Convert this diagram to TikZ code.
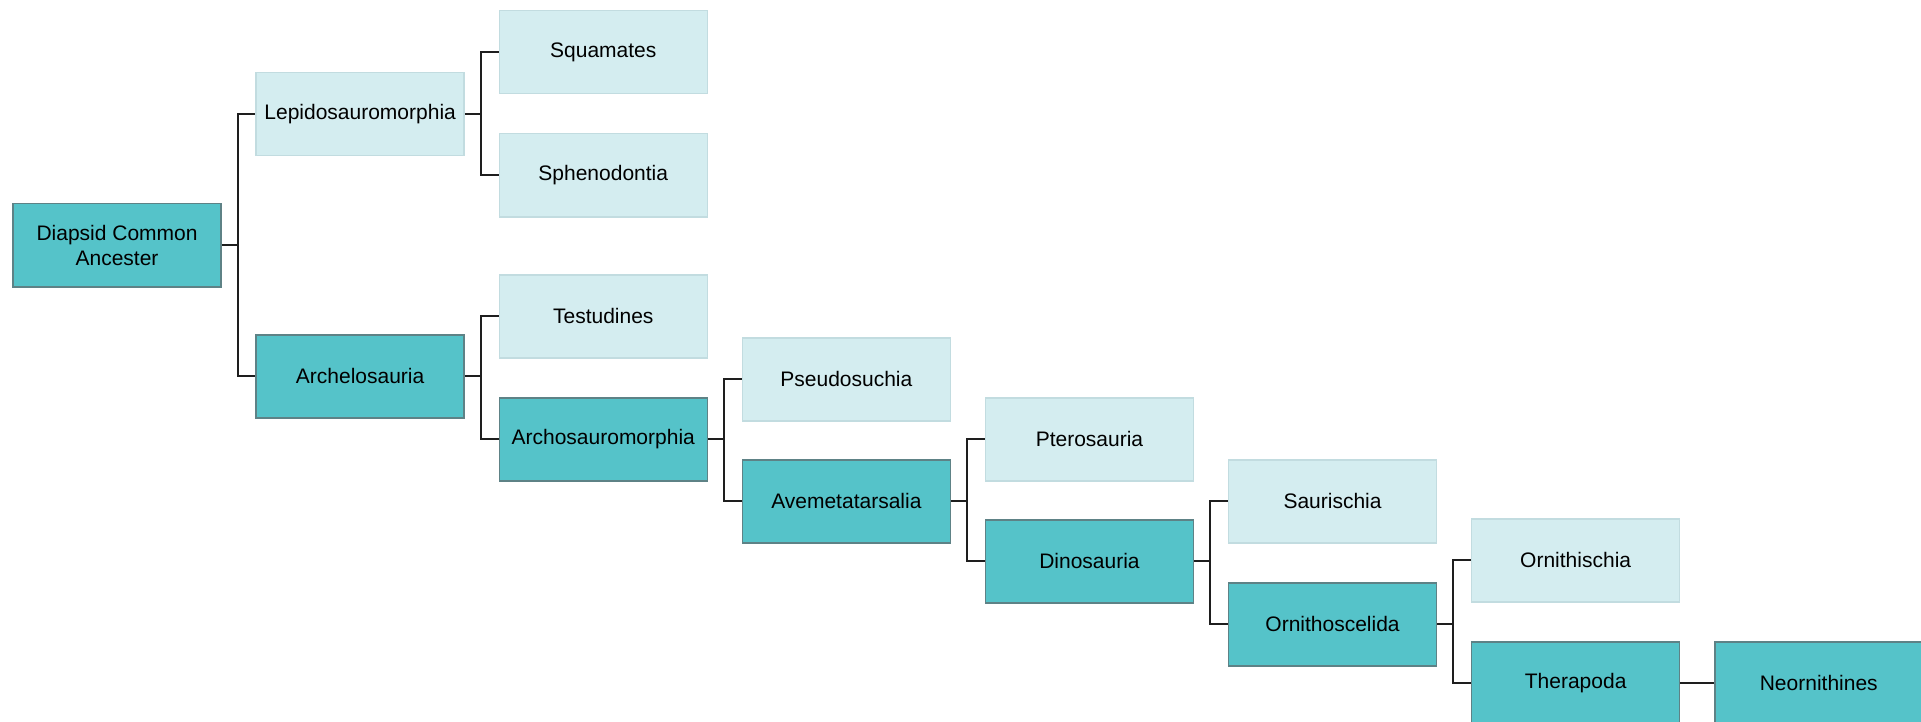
\documentclass[tikz,border=0pt]{standalone}
\usepackage{fontspec}
\setmainfont{Liberation Sans}
\definecolor{darkfill}{HTML}{55C3C9}
\definecolor{darkline}{HTML}{5E8286}
\definecolor{lightfill}{HTML}{D4EDF0}
\definecolor{lightline}{HTML}{C2DCE0}
\definecolor{conn}{HTML}{1E1E1E}
\tikzset{
  box/.style={rectangle, anchor=north west, minimum width=208pt, minimum height=83pt,
    inner sep=2pt, align=center, font=\fontsize{21}{25}\selectfont, text=black, line width=1.5pt},
  darkbox/.style={box, fill=darkfill, draw=darkline},
  lightbox/.style={box, fill=lightfill, draw=lightline},
  link/.style={draw=conn, line width=2.2pt}
}
\begin{document}
\begin{tikzpicture}[x=1pt,y=-1pt]
\useasboundingbox (0,0) rectangle (1921,722);
\clip (0,0) rectangle (1921,722);
% columns: left = 12.3 + 243.1*i
\node[darkbox]  (diap)  at (12.3,203)   {Diapsid Common\\Ancester};
\node[lightbox] (lepi)  at (255.4,72)   {Lepidosauromorphia};
\node[darkbox]  (arche) at (255.4,334)  {Archelosauria};
\node[lightbox] (squa)  at (498.5,10)   {Squamates};
\node[lightbox] (sphe)  at (498.5,133)  {Sphenodontia};
\node[lightbox] (test)  at (498.5,274)  {Testudines};
\node[darkbox]  (archo) at (498.5,397)  {Archosauromorphia};
\node[lightbox] (pseu)  at (741.6,337)  {Pseudosuchia};
\node[darkbox]  (avem)  at (741.6,459)  {Avemetatarsalia};
\node[lightbox] (pter)  at (984.7,397)  {Pterosauria};
\node[darkbox]  (dino)  at (984.7,519)  {Dinosauria};
\node[lightbox] (saur)  at (1227.8,459) {Saurischia};
\node[darkbox]  (ornc)  at (1227.8,582) {Ornithoscelida};
\node[lightbox] (orni)  at (1470.9,518) {Ornithischia};
\node[darkbox]  (ther)  at (1470.9,641) {Therapoda};
\node[darkbox]  (neor)  at (1714,641)   {Neornithines};
% connectors
\foreach \p/\a/\b in {diap/lepi/arche, lepi/squa/sphe, arche/test/archo,
                     archo/pseu/avem, avem/pter/dino, dino/saur/ornc, ornc/orni/ther}{
  \draw[link] (\p.east) -- ++(16,0) coordinate (f) |- (\a.west);
  \draw[link] (f) |- (\b.west);
}
\draw[link] (ther.east) -- (neor.west);
\end{tikzpicture}
\end{document}
